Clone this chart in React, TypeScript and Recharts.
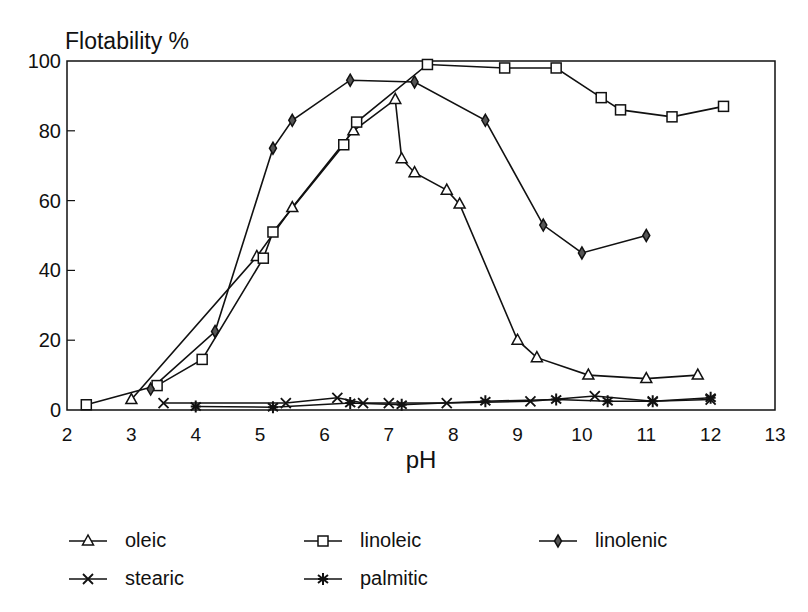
import React from 'react';
import { LineChart, Line, XAxis, YAxis, ReferenceArea } from 'recharts';

// pH values and flotability (%)
const oleicPH = [3, 4.95, 5.5, 6.45, 7.1, 7.2, 7.4, 7.9, 8.1, 9.0, 9.3, 10.1, 11.0, 11.8];
const oleicFlot = [3, 44, 58, 80, 89, 72, 68, 63, 59, 20, 15, 10, 9, 10];

const linoleicPH = [2.3, 3.4, 4.1, 5.05, 5.2, 6.3, 6.5, 7.6, 8.8, 9.6, 10.3, 10.6, 11.4, 12.2];
const linoleicFlot = [1.5, 7, 14.5, 43.5, 51, 76, 82.5, 99, 98, 98, 89.5, 86, 84, 87];

const linolenicPH = [3.3, 4.3, 5.2, 5.5, 6.4, 7.4, 8.5, 9.4, 10.0, 11.0];
const linolenicFlot = [6, 22.5, 75, 83, 94.5, 94, 83, 53, 45, 50];

const stearicPH = [3.5, 5.4, 6.2, 6.6, 7.0, 7.9, 9.2, 10.2, 11.1, 12.0];
const stearicFlot = [2, 2, 3.5, 2, 2, 2, 2.5, 4, 2.5, 3];

const palmiticPH = [4.0, 5.2, 6.4, 7.2, 8.5, 9.6, 10.4, 11.1, 12.0];
const palmiticFlot = [1, 0.8, 2, 1.5, 2.5, 3, 2.5, 2.5, 3.5];

const xTicks = [2, 3, 4, 5, 6, 7, 8, 9, 10, 11, 12, 13];
const yTicks = [0, 20, 40, 60, 80, 100];

const toRows = (xs: number[], ys: number[]) => xs.map((ph, i) => ({ ph, v: ys[i] }));

const INK = '#111';
const FONT = '"Liberation Sans", Arial, sans-serif';

type MarkProps = { cx: number; cy: number };

const Triangle = ({ cx, cy }: MarkProps) => (
  <polygon
    points={`${cx},${cy - 6} ${cx - 5.5},${cy + 4} ${cx + 5.5},${cy + 4}`}
    fill="#fff"
    stroke={INK}
    strokeWidth={1.5}
  />
);

const Square = ({ cx, cy }: MarkProps) => (
  <rect x={cx - 5} y={cy - 5} width={10} height={10} fill="#fff" stroke={INK} strokeWidth={1.5} />
);

const Diamond = ({ cx, cy }: MarkProps) => (
  <polygon
    points={`${cx},${cy - 6} ${cx + 3.5},${cy} ${cx},${cy + 6} ${cx - 3.5},${cy}`}
    fill="#555"
    stroke={INK}
    strokeWidth={1.5}
  />
);

const Cross = ({ cx, cy }: MarkProps) => (
  <path
    d={`M${cx - 5},${cy - 5}L${cx + 5},${cy + 5}M${cx + 5},${cy - 5}L${cx - 5},${cy + 5}`}
    stroke={INK}
    strokeWidth={1.8}
  />
);

const Star = ({ cx, cy }: MarkProps) => (
  <path
    d={`M${cx},${cy - 6}L${cx},${cy + 6}M${cx - 5},${cy - 4}L${cx + 5},${cy + 4}M${cx + 5},${cy - 4}L${cx - 5},${cy + 4}M${cx - 5},${cy}L${cx + 5},${cy}`}
    stroke={INK}
    strokeWidth={2}
  />
);

const series = [
  { name: 'oleic', data: toRows(oleicPH, oleicFlot), Mark: Triangle },
  { name: 'linoleic', data: toRows(linoleicPH, linoleicFlot), Mark: Square },
  { name: 'linolenic', data: toRows(linolenicPH, linolenicFlot), Mark: Diamond },
  { name: 'stearic', data: toRows(stearicPH, stearicFlot), Mark: Cross },
  { name: 'palmitic', data: toRows(palmiticPH, palmiticFlot), Mark: Star },
];

const YTick = (props: any) => {
  const { x, y, payload } = props;
  const axisX = x + 5;
  return (
    <g>
      {payload.value > 0 && payload.value < 100 && (
        <line x1={axisX} x2={axisX + 8} y1={y} y2={y} stroke={INK} strokeWidth={1.2} />
      )}
      <text x={x - 1} y={y} dy="0.35em" textAnchor="end" fontSize={20} fill={INK} fontFamily={FONT}>
        {payload.value}
      </text>
    </g>
  );
};

const LegendItem = ({ name, Mark }: { name: string; Mark: React.FC<MarkProps> }) => (
  <div style={{ display: 'flex', alignItems: 'center', width: 235 }}>
    <svg width={40} height={16}>
      <line x1={1} x2={39} y1={8} y2={8} stroke={INK} strokeWidth={1.5} />
      <Mark cx={20} cy={8} />
    </svg>
    <span style={{ marginLeft: 17, fontSize: 20, color: INK, fontFamily: FONT }}>{name}</span>
  </div>
);

const App: React.FC = () => {
  return (
    <div style={{ width: 800, height: 596, background: '#fff', fontFamily: FONT }}>
      <LineChart width={800} height={480} margin={{ top: 53, right: 33, left: 0, bottom: 18 }}>
        <XAxis
          dataKey="ph"
          type="number"
          domain={[2, 13]}
          ticks={xTicks}
          allowDuplicatedCategory={false}
          axisLine={false}
          tickLine={false}
          tickSize={0}
          tickMargin={18}
          height={60}
          tick={{ fontSize: 19, fill: INK, fontFamily: FONT }}
          label={{
            value: 'pH',
            position: 'insideBottom',
            offset: 2,
            fontSize: 24,
            fill: INK,
            fontFamily: FONT,
          }}
        />
        <YAxis
          type="number"
          domain={[0, 100]}
          ticks={yTicks}
          width={59}
          axisLine={false}
          tickLine={false}
          tickSize={0}
          tickMargin={5}
          tick={<YTick />}
          label={{
            position: 'top',
            content: (p: any) => (
              <text
                x={p.viewBox.x + 57}
                y={p.viewBox.y - 12}
                fontSize={23}
                fill={INK}
                fontFamily={FONT}
              >
                Flotability %
              </text>
            ),
          }}
        />
        <ReferenceArea x1={2} x2={13} y1={0} y2={100} fill="none" stroke={INK} strokeWidth={1.5} />
        {series.map((s) => (
          <Line
            key={s.name}
            data={s.data}
            dataKey="v"
            name={s.name}
            stroke={INK}
            strokeWidth={1.6}
            isAnimationActive={false}
            dot={(p: any) => <s.Mark key={`${s.name}-${p.index}`} cx={p.cx} cy={p.cy} />}
            activeDot={false}
          />
        ))}
      </LineChart>
      <div style={{ marginTop: 41, marginLeft: 60 }}>
        <div style={{ display: 'flex' }}>
          <LegendItem name="oleic" Mark={Triangle} />
          <LegendItem name="linoleic" Mark={Square} />
          <LegendItem name="linolenic" Mark={Diamond} />
        </div>
        <div style={{ display: 'flex', marginTop: 15 }}>
          <LegendItem name="stearic" Mark={Cross} />
          <LegendItem name="palmitic" Mark={Star} />
        </div>
      </div>
    </div>
  );
};

export default App;
